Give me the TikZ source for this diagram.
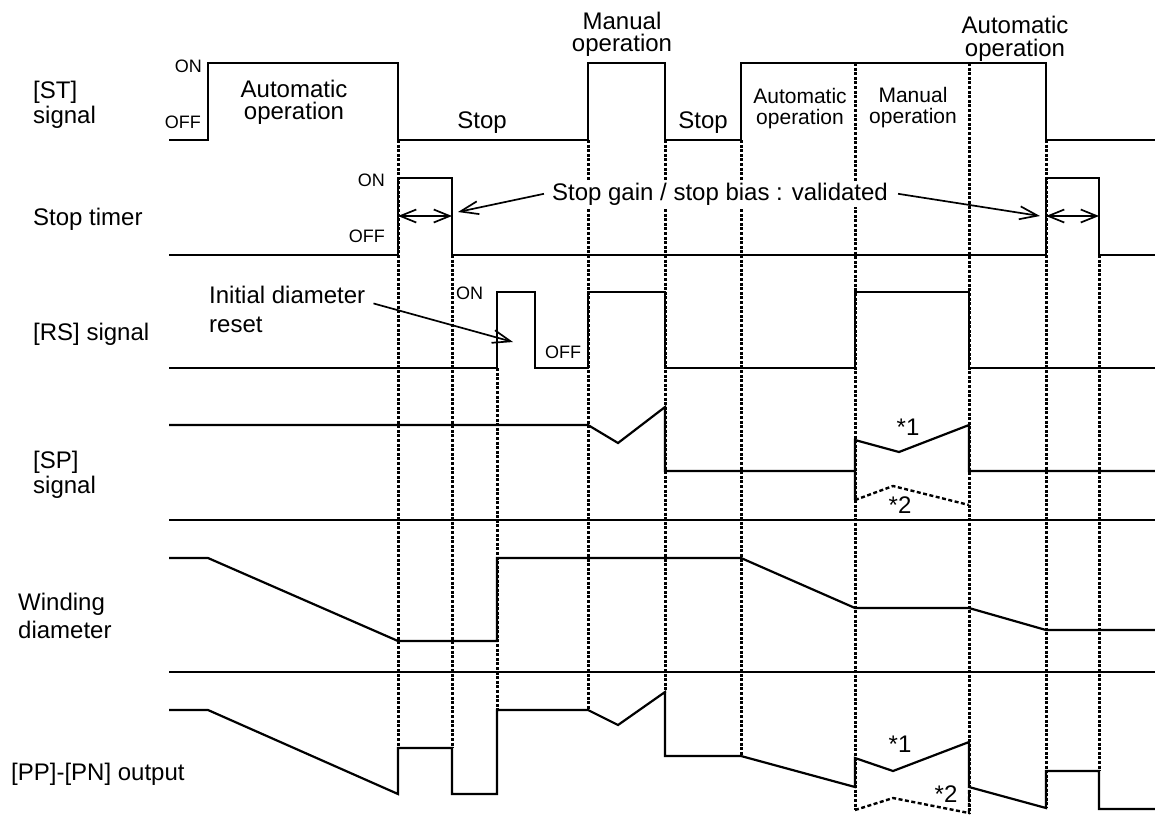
\documentclass[tikz,border=0pt]{standalone}
\usepackage{fontspec}
\setmainfont{Liberation Sans}
\usetikzlibrary{arrows.meta}

\begin{document}
\begin{tikzpicture}[
  x=1pt, y=-1pt,
  lbl/.style={font=\fontsize{24}{28}\selectfont, inner sep=0pt},
  midlbl/.style={font=\fontsize{21}{24}\selectfont, inner sep=0pt},
  onoff/.style={font=\fontsize{18}{20}\selectfont, inner sep=0pt},
  wave/.style={line width=2.2pt},
  divider/.style={line width=1.8pt},
  guide/.style={line width=3pt, dash pattern=on 3pt off 1.6pt},
  altwave/.style={line width=2.4pt, dash pattern=on 4pt off 2.5pt},
  barb/.style={line width=1.7pt, -{Straight Barb[length=18pt,width=13pt]}},
  barbs/.style={line width=1.7pt, {Straight Barb[length=16pt,width=13pt]}-{Straight Barb[length=16pt,width=13pt]}}
]
\useasboundingbox (0,0) rectangle (1155,823);

\foreach \x/\ya/\yb in {398/140/748, 452/255/748, 497/368/710, 588/140/710, 665/140/692,
  741/140/756, 855/63/810, 969/63/813, 1046/140/808, 1099/255/771}
  \draw[guide] (\x,\ya) -- (\x,\yb);

% row names
\node[lbl, anchor=base west] (st1) at (33,98) {[ST]};
\node[lbl, anchor=base west] (st2) at (33,123) {signal};
\node[lbl, anchor=base west] (tmr) at (33,225) {Stop timer};
\node[lbl, anchor=base west] (rs) at (33,340) {[RS] signal};
\node[lbl, anchor=base west] (sp1) at (33,468) {[SP]};
\node[lbl, anchor=base west] (sp2) at (33,493) {signal};
\node[lbl, anchor=base west] (wd1) at (18,610) {Winding};
\node[lbl, anchor=base west] (wd2) at (18,638) {diameter};
\node[lbl, anchor=base west] (pp) at (11,780) {[PP]-[PN] output};

% [ST] signal
\draw[wave] (169,140) -- (208,140) -- (208,63) -- (398,63) -- (398,140) -- (588,140) -- (588,63)
  -- (665,63) -- (665,140) -- (741,140) -- (741,63) -- (1046,63) -- (1046,140) -- (1155,140);
\node[onoff, anchor=base east] (ston) at (202,72) {ON};
\node[onoff, anchor=base east] (stoff) at (201,128) {OFF};
\node[lbl, anchor=base] (auto1a) at (294,97) {Automatic};
\node[lbl, anchor=base] (auto1b) at (294,119) {operation};
\node[lbl, anchor=base] (stop1) at (482,128) {Stop};
\node[lbl, anchor=base] (man1a) at (622,29) {Manual};
\node[lbl, anchor=base] (man1b) at (622,51) {operation};
\node[lbl, anchor=base] (stop2) at (703,128) {Stop};
\node[midlbl, anchor=base] (auto2a) at (800,103) {Automatic};
\node[midlbl, anchor=base] (auto2b) at (800,124) {operation};
\node[midlbl, anchor=base] (man2a) at (913,102) {Manual};
\node[midlbl, anchor=base] (man2b) at (913,123) {operation};
\node[lbl, anchor=base] (auto3a) at (1015,33) {Automatic};
\node[lbl, anchor=base] (auto3b) at (1015,56) {operation};

% stop timer
\draw[wave] (169,255) -- (398,255) -- (398,178) -- (452,178) -- (452,255) -- (1046,255)
  -- (1046,178) -- (1099,178) -- (1099,255) -- (1155,255);
\node[onoff, anchor=base east] (tmron) at (385,186) {ON};
\node[onoff, anchor=base east] (tmroff) at (385,242) {OFF};
\coordinate (tA) at (398,216);
\coordinate (tB) at (452,216);
\coordinate (tC) at (1046,216);
\coordinate (tD) at (1099,216);
\draw[barbs] (tA) -- (tB);
\draw[barbs] (tC) -- (tD);
\node[lbl, anchor=base, fill=white, inner sep=2pt] (sg) at (720,200) {Stop gain / stop bias : validated};
\coordinate (sgL) at (458,212);
\coordinate (sgR) at (1040,216);
\draw[barb] ([xshift=-6pt]sg.west) -- (sgL);
\draw[barb] ([xshift=8pt]sg.east) -- (sgR);

% [RS] signal
\draw[wave] (169,368) -- (497,368) -- (497,292) -- (535,292) -- (535,368) -- (588,368) -- (588,292)
  -- (665,292) -- (665,368) -- (855,368) -- (855,292) -- (969,292) -- (969,368) -- (1155,368);
\node[onoff, anchor=base west] (rson) at (456,299) {ON};
\node[onoff, anchor=base west] (rsoff) at (545,358) {OFF};
\node[lbl, anchor=base west] (ini1) at (209,303) {Initial diameter};
\node[lbl, anchor=base west] (ini2) at (209,332) {reset};
\coordinate (rsP) at (513,342);
\draw[barb] ([xshift=8pt]ini1.south east) -- (rsP);

% [SP] signal
\draw[wave] (169,425) -- (588,425) -- (618,443) -- (665,407) -- (665,471) -- (855,471);
\draw[wave] (855,500) -- (855,440) -- (899,452) -- (969,425) -- (969,471) -- (1155,471);
\draw[altwave] (855,500) -- (893,486) -- (969,505);
\node[lbl, anchor=base] (sp1a) at (908,435) {*1};
\node[lbl, anchor=base] (sp2a) at (900,513) {*2};

\draw[divider] (169,520) -- (1155,520);

% winding diameter
\draw[wave] (169,558) -- (208,558) -- (398,641) -- (497,641) -- (497,558) -- (741,558)
  -- (855,608) -- (969,608) -- (1046,630) -- (1155,630);

\draw[divider] (169,672) -- (1155,672);

% [PP]-[PN] output
\draw[wave] (169,710) -- (208,710) -- (398,794) -- (398,748) -- (452,748) -- (452,794)
  -- (497,794) -- (497,710) -- (588,710) -- (618,725) -- (665,692) -- (665,756) -- (741,756)
  -- (855,787) -- (855,758) -- (893,771) -- (969,742) -- (969,787) -- (1046,808)
  -- (1046,771) -- (1099,771) -- (1099,809) -- (1155,809);
\draw[altwave] (855,810) -- (893,798) -- (969,813) -- (969,787);
\node[lbl, anchor=base] (pp1) at (900,752) {*1};
\node[lbl, anchor=base] (pp2) at (946,802) {*2};

\end{tikzpicture}
\end{document}
